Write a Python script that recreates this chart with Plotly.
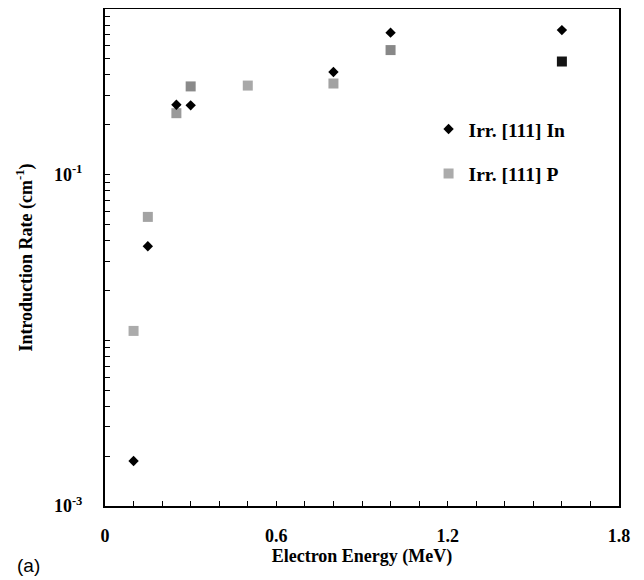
import plotly.graph_objects as go

# Data
energy_in = [0.1, 0.15, 0.25, 0.3, 0.8, 1.0, 1.6]
rate_in = [0.00187, 0.037, 0.264, 0.262, 0.417, 0.72, 0.746]

energy_p = [0.1, 0.15, 0.25, 0.3, 0.5, 0.8, 1.0, 1.6]
rate_p = [0.0114, 0.0556, 0.235, 0.341, 0.345, 0.355, 0.565, 0.482]
colors_p = ["#ababab", "#a3a3a3", "#9a9a9a", "#8a8a8a", "#a8a8a8", "#a2a2a2", "#888888", "#141414"]

x_ticks = [0, 0.6, 1.2, 1.8]
x_ticktext = ["0", "0.6", "1.2", "1.8"]
y_ticks = [1e-3, 1e-1]
y_ticktext = ["10<sup>-3</sup>", "10<sup>-1</sup>"]

FONT = "Liberation Serif"

minor_y = [m * 10 ** e for e in (-3, -2, -1) for m in range(2, 11)]
minor_x = [i / 10 for i in range(19) if i % 6 != 0]

fig = go.Figure()
fig.add_trace(go.Scatter(
    x=energy_p, y=rate_p, mode="markers", name="Irr. [111] P",
    marker=dict(symbol="square", size=10, color=colors_p, line=dict(width=0)),
    legendgroup="p", legendrank=2,
))
fig.add_trace(go.Scatter(
    x=energy_in, y=rate_in, mode="markers", name="Irr. [111] In",
    marker=dict(symbol="diamond", size=8, color="black", line=dict(width=0)),
    legendgroup="in", legendrank=1,
))

axis_common = dict(
    showline=True, linecolor="black", linewidth=2, mirror=True,
    ticks="inside", ticklen=5, tickwidth=1, tickcolor="black",
    showgrid=False, zeroline=False,
    tickfont=dict(family=FONT, size=18, color="black", weight="bold"),
)

fig.update_xaxes(
    range=[0, 1.8], tickvals=x_ticks, ticktext=x_ticktext,
    ticklabelstandoff=12,
    title=dict(text="Electron Energy (MeV)", standoff=3,
               font=dict(family=FONT, size=18, color="black", weight="bold")),
    minor=dict(tickvals=minor_x, ticks="inside", ticklen=5, tickwidth=1, tickcolor="black"),
    **axis_common,
)
fig.update_yaxes(
    type="log", range=[-3, 0], tickvals=y_ticks, ticktext=y_ticktext,
    ticklabelstandoff=17,
    title=dict(text="Introduction Rate (cm<sup>-1</sup>)", standoff=17,
               font=dict(family=FONT, size=18, color="black", weight="bold")),
    minor=dict(tickvals=minor_y, ticks="inside", ticklen=5, tickwidth=1, tickcolor="black"),
    **axis_common,
)

fig.add_annotation(
    text="(a)", xref="paper", yref="paper", x=-0.175, y=-0.12,
    xanchor="left", yanchor="middle", showarrow=False,
    font=dict(family="Liberation Sans", size=19, color="black"),
)

fig.update_layout(
    width=636, height=572,
    margin=dict(l=97, r=25, t=1, b=74, autoexpand=False),
    paper_bgcolor="white", plot_bgcolor="white",
    showlegend=True,
    legend=dict(
        x=0.6295, y=0.797, xanchor="left", yanchor="top",
        font=dict(family=FONT, size=19.5, color="black", weight="bold"),
        bgcolor="rgba(0,0,0,0)", tracegroupgap=16, traceorder="grouped",
    ),
)

fig.write_html("out.html")
